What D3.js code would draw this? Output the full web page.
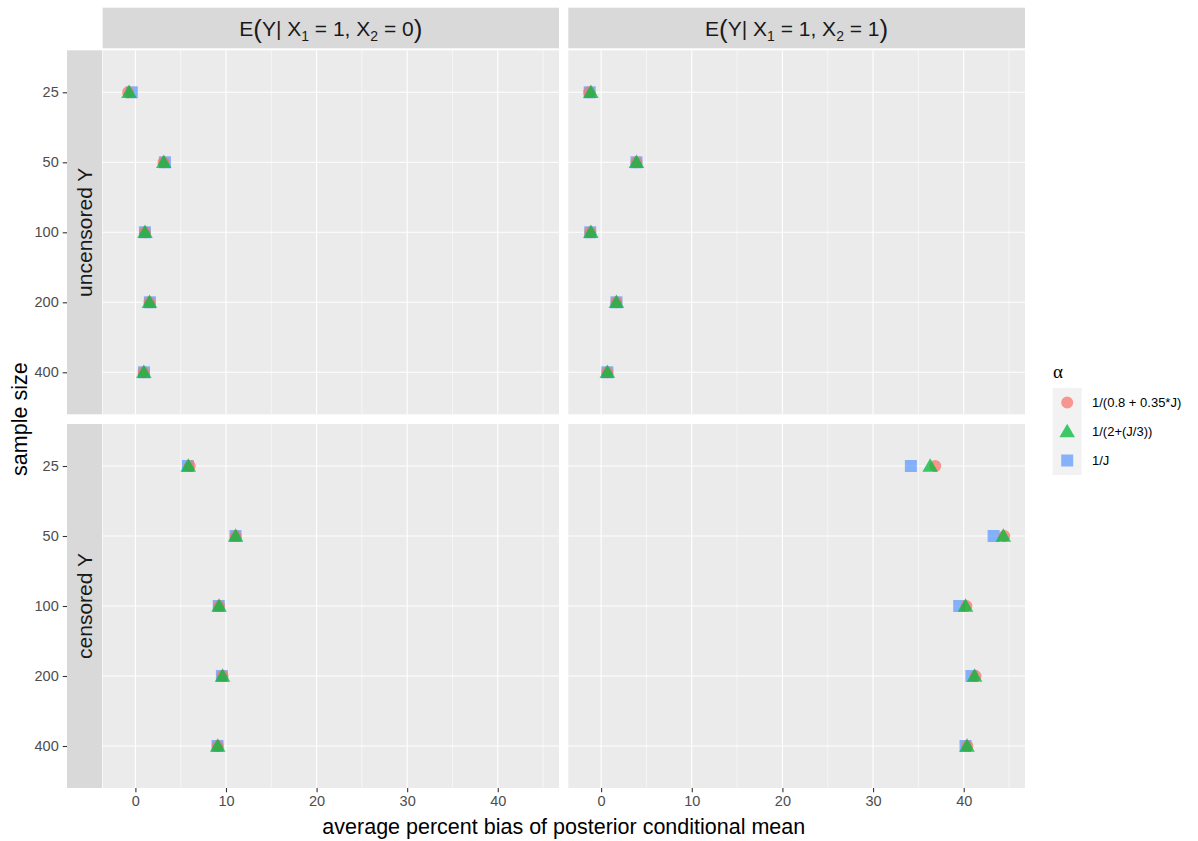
<!DOCTYPE html>
<html>
<head>
<meta charset="utf-8">
<script src="https://cdn.jsdelivr.net/npm/d3@7"></script>
<style>
  body { margin: 0; background: #ffffff; }
  svg { display: block; font-family: "Liberation Sans", Arial, Helvetica, sans-serif; }
</style>
</head>
<body>
<svg id="chart" width="1198" height="841"></svg>
<script>
// ---------------- data ----------------
const sampleSizes = ["25", "50", "100", "200", "400"];
const alphaLevels = ["1/(0.8 + 0.35*J)", "1/(2+(J/3))", "1/J"];
const rowFacets = ["uncensored Y", "censored Y"];
const colFacets = [{x1: "1", x2: "0"}, {x1: "1", x2: "1"}];
const xTicks = [0, 10, 20, 30, 40];
const xMinor = [-5, 5, 15, 25, 35, 45];

// uncensored Y, X2 = 0
const uncX20_circle   = [-0.8, 3.1, 1.05, 1.55, 0.9];
const uncX20_triangle = [-0.7, 3.13, 1.06, 1.55, 0.93];
const uncX20_square   = [-0.4, 3.26, 1.05, 1.6, 0.95];
// uncensored Y, X2 = 1
const uncX21_circle   = [-1.33, 3.9, -1.2, 1.69, 0.69];
const uncX21_triangle = [-1.13, 3.9, -1.13, 1.69, 0.69];
const uncX21_square   = [-1.26, 3.9, -1.2, 1.69, 0.69];
// censored Y, X2 = 0
const cenX20_circle   = [6.0, 11.07, 9.24, 9.62, 9.09];
const cenX20_triangle = [5.84, 11.07, 9.24, 9.62, 9.09];
const cenX20_square   = [5.8, 11.05, 9.2, 9.55, 9.07];
// censored Y, X2 = 1
const cenX21_circle   = [36.86, 44.47, 40.3, 41.3, 40.4];
const cenX21_triangle = [36.3, 44.37, 40.2, 41.2, 40.37];
const cenX21_square   = [34.17, 43.3, 39.5, 40.85, 40.2];

const panels = [
  {row: 0, col: 0, series: [uncX20_circle, uncX20_triangle, uncX20_square]},
  {row: 0, col: 1, series: [uncX21_circle, uncX21_triangle, uncX21_square]},
  {row: 1, col: 0, series: [cenX20_circle, cenX20_triangle, cenX20_square]},
  {row: 1, col: 1, series: [cenX21_circle, cenX21_triangle, cenX21_square]}
];

// ---------------- layout ----------------
const colors = ["#F8766D", "#00BA38", "#619CFF"];
const shapes = [d3.symbolCircle, d3.symbolTriangle, d3.symbolSquare];
const shapeSizes = [113, 105, 144];
const ptOpacity = 0.75;

const panelX = [[102.6, 559], [568.3, 1025]];
const panelY = [[50.3, 414.3], [424, 788]];
const stripTop = [7.7, 48.3];
const stripLeft = [67, 102];

const svg = d3.select("#chart");

// shared x domain with ggplot-like 5% expansion
const allVals = panels.flatMap(p => p.series.flat());
const ext = d3.extent(allVals);
const pad = (ext[1] - ext[0]) * 0.05;
const xDomain = [ext[0] - pad, ext[1] + pad];

const xScales = panelX.map(r => d3.scaleLinear().domain(xDomain).range(r));
const yScales = panelY.map(r => d3.scalePoint().domain(sampleSizes).range(r).padding(0.6));

// ---------------- panels ----------------
panels.forEach(p => {
  const xs = xScales[p.col], ys = yScales[p.row];
  const [x0, x1] = panelX[p.col], [y0, y1] = panelY[p.row];
  const g = svg.append("g");
  g.append("rect").attr("x", x0).attr("y", y0).attr("width", x1 - x0).attr("height", y1 - y0).attr("fill", "#EBEBEB");
  g.selectAll(".minor").data(xMinor.filter(v => v > xDomain[0] && v < xDomain[1])).join("line")
    .attr("x1", d => xs(d)).attr("x2", d => xs(d)).attr("y1", y0).attr("y2", y1)
    .attr("stroke", "#FFFFFF").attr("stroke-width", 0.55);
  g.selectAll(".majx").data(xTicks).join("line")
    .attr("x1", d => xs(d)).attr("x2", d => xs(d)).attr("y1", y0).attr("y2", y1)
    .attr("stroke", "#FFFFFF").attr("stroke-width", 1.1);
  g.selectAll(".majy").data(sampleSizes).join("line")
    .attr("y1", d => ys(d)).attr("y2", d => ys(d)).attr("x1", x0).attr("x2", x1)
    .attr("stroke", "#FFFFFF").attr("stroke-width", 1.1);

  [2, 0, 1].forEach(si => {
    const vals = p.series[si];
    g.selectAll(null).data(vals).join("path")
      .attr("d", d3.symbol().type(shapes[si]).size(shapeSizes[si]))
      .attr("transform", (d, i) => `translate(${xs(d)},${ys(sampleSizes[i]) + (si === 1 ? 1.2 : 0)})`)
      .attr("fill", colors[si]).attr("fill-opacity", ptOpacity);
  });
});

// ---------------- top strips ----------------
colFacets.forEach((c, ci) => {
  const [x0, x1] = panelX[ci];
  svg.append("rect").attr("x", x0).attr("y", stripTop[0]).attr("width", x1 - x0)
    .attr("height", stripTop[1] - stripTop[0]).attr("fill", "#D9D9D9");
  const t = svg.append("text").attr("x", (x0 + x1) / 2).attr("y", 36)
    .attr("text-anchor", "middle").attr("font-size", 21).attr("fill", "#1A1A1A");
  t.append("tspan").text("E");
  t.append("tspan").attr("font-size", 26).attr("dy", 1.5).text("(");
  t.append("tspan").attr("dy", -1.5).text("Y| X");
  t.append("tspan").attr("font-size", 14).attr("dy", 5).text(c.x1);
  t.append("tspan").attr("dy", -5).text(" = 1, X");
  t.append("tspan").attr("font-size", 14).attr("dy", 5).text("2");
  t.append("tspan").attr("dy", -5).text(" = " + c.x2);
  t.append("tspan").attr("font-size", 26).attr("dy", 1.5).text(")");
});

// ---------------- left strips ----------------
rowFacets.forEach((r, ri) => {
  const [y0, y1] = panelY[ri];
  svg.append("rect").attr("x", stripLeft[0]).attr("y", y0).attr("width", stripLeft[1] - stripLeft[0])
    .attr("height", y1 - y0).attr("fill", "#D9D9D9");
  const cy = (y0 + y1) / 2, cx = (stripLeft[0] + stripLeft[1]) / 2;
  svg.append("text").attr("transform", `translate(${cx + 7.5},${cy}) rotate(-90)`)
    .attr("text-anchor", "middle").attr("font-size", 21).attr("fill", "#1A1A1A").text(r);
});

// ---------------- y axes (outside the strips) ----------------
yScales.forEach(ys => {
  const g = svg.append("g").attr("transform", `translate(${stripLeft[0]},0)`);
  g.call(d3.axisLeft(ys).tickSize(4.3).tickPadding(4));
  g.select(".domain").remove();
  g.selectAll(".tick line").attr("stroke", "#333333").attr("stroke-width", 1.1);
  g.selectAll(".tick text").attr("fill", "#4D4D4D").attr("font-size", 14.5)
    .attr("font-family", "\"Liberation Sans\", Arial, sans-serif");
});

// ---------------- x axes ----------------
xScales.forEach(xs => {
  const g = svg.append("g").attr("transform", `translate(0,${panelY[1][1]})`);
  g.call(d3.axisBottom(xs).tickValues(xTicks).tickFormat(d3.format("d")).tickSize(4.3).tickPadding(3));
  g.select(".domain").remove();
  g.selectAll(".tick line").attr("stroke", "#333333").attr("stroke-width", 1.1);
  g.selectAll(".tick text").attr("fill", "#4D4D4D").attr("font-size", 14.5)
    .attr("font-family", "\"Liberation Sans\", Arial, sans-serif");
});

// ---------------- axis titles ----------------
svg.append("text").attr("x", (panelX[0][0] + panelX[1][1]) / 2).attr("y", 834)
  .attr("text-anchor", "middle").attr("font-size", 21.5).attr("fill", "#000")
  .text("average percent bias of posterior conditional mean");
svg.append("text").attr("transform", `translate(27,${(panelY[0][0] + panelY[1][1]) / 2}) rotate(-90)`)
  .attr("text-anchor", "middle").attr("font-size", 21.5).attr("fill", "#000")
  .text("sample size");

// ---------------- legend ----------------
const lg = svg.append("g");
lg.append("text").attr("x", 1053).attr("y", 378).attr("font-size", 19).attr("fill", "#000")
  .attr("font-family", "\"Liberation Serif\", \"DejaVu Serif\", serif").text("α");
const keyH = 29, keyTop = 388;
alphaLevels.forEach((lab, i) => {
  const cy = keyTop + keyH * i + keyH / 2;
  lg.append("rect").attr("x", 1052.7).attr("y", keyTop + keyH * i).attr("width", 29).attr("height", keyH)
    .attr("fill", "#F2F2F2");
  lg.append("path").attr("d", d3.symbol().type(shapes[i]).size(shapeSizes[i]))
    .attr("transform", `translate(1067.2,${cy + (i === 1 ? 1.2 : 0)})`)
    .attr("fill", colors[i]).attr("fill-opacity", ptOpacity);
  lg.append("text").attr("x", 1092).attr("y", cy + 4.6).attr("font-size", 13).attr("fill", "#000").text(lab);
});
</script>
</body>
</html>
